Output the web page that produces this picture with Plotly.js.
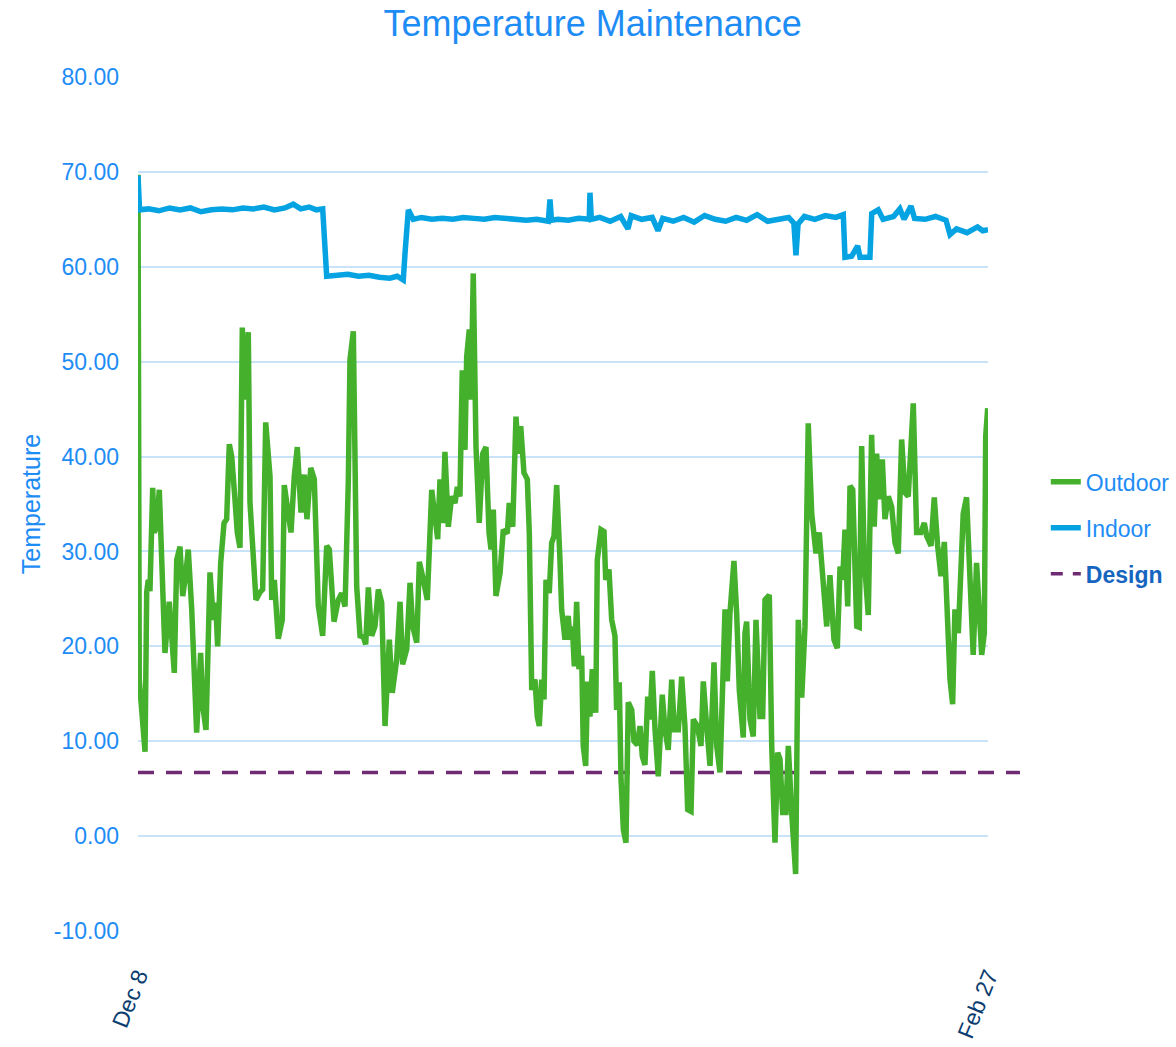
<!DOCTYPE html>
<html>
<head>
<meta charset="utf-8">
<script src="https://cdn.plot.ly/plotly-3.0.1.min.js"></script>
<style>html,body{margin:0;padding:0;background:#fff;}#chart{width:1176px;height:1047px;}</style>
</head>
<body>
<div id="chart"></div>
<script>
// Days since Dec 8 (0 = Dec 8, 81 = Feb 27)
const xTickVals = [0, 81];
const xTickText = ['Dec 8', 'Feb 27'];
const yTickVals = [-10, 0, 10, 20, 30, 40, 50, 60, 70, 80];
const yTickText = ['-10.00', '0.00', '10.00', '20.00', '30.00', '40.00', '50.00', '60.00', '70.00', '80.00'];

const outdoorDay = [0,0.12,0.67,0.83,0.98,1.14,1.40,1.55,1.78,2.03,2.57,2.98,3.46,3.69,4.00,4.26,4.57,4.79,5.12,5.59,5.97,6.17,6.48,6.86,7.18,7.40,7.59,7.88,8.20,8.45,8.70,8.93,9.24,9.46,9.72,9.94,10.20,10.51,10.67,10.99,11.24,11.63,11.88,12.17,12.58,12.74,12.99,13.37,13.75,13.94,14.27,14.58,14.89,15.18,15.53,15.85,16.10,16.46,16.80,17.18,17.60,17.98,18.23,18.68,19.09,19.41,19.73,20.04,20.20,20.52,20.84,21.16,21.47,21.70,21.95,22.27,22.58,22.90,23.22,23.54,23.95,24.23,24.65,24.97,25.22,25.61,25.92,26.18,26.56,26.81,27.19,27.57,27.99,28.30,28.56,28.78,29.04,29.25,29.57,29.89,30.21,30.43,30.68,30.90,31.16,31.32,31.57,31.73,31.95,32.21,32.52,32.85,33.16,33.45,33.64,33.86,34.11,34.50,34.81,35.19,35.38,35.71,36.02,36.24,36.47,36.78,37.10,37.29,37.52,37.83,38.05,38.24,38.47,38.69,38.88,39.19,39.42,39.64,39.90,40.21,40.37,40.69,41.00,41.17,41.39,41.58,41.80,42.02,42.28,42.43,42.66,42.85,43.07,43.29,43.62,43.77,44.12,44.41,44.57,44.88,45.14,45.45,45.61,45.86,46.03,46.25,46.50,46.72,47.05,47.26,47.58,47.84,48.06,48.31,48.57,48.79,49.01,49.27,49.58,49.96,50.22,50.53,50.86,51.11,51.49,51.81,52.12,52.38,52.70,52.92,53.30,53.65,53.87,54.19,54.51,54.89,55.15,55.46,55.72,55.94,56.16,56.41,56.79,57.05,57.30,57.68,57.84,58.00,58.32,58.63,58.89,59.27,59.53,59.75,60.16,60.39,60.70,60.96,61.18,61.43,61.75,61.97,62.29,62.67,62.92,63.25,63.56,63.87,64.20,64.61,64.92,65.25,65.63,65.94,66.32,66.64,66.90,67.15,67.37,67.63,67.85,68.11,68.49,68.73,68.96,69.21,69.59,69.91,70.16,70.39,70.61,70.93,71.18,71.50,71.82,72.14,72.45,72.77,73.09,73.40,73.66,73.88,74.20,74.61,74.93,75.16,75.57,75.88,76.20,76.52,76.84,77.06,77.38,77.63,77.85,78.17,78.33,78.64,78.96,79.28,79.59,79.91,80.14,80.40,80.65,80.78,80.97];
const outdoorTemp = [69.7,16.5,8.9,25.7,27.0,25.8,36.7,32.0,32.6,36.5,19.3,24.7,17.2,29.1,30.5,25.3,27.8,30.2,23.9,10.9,19.3,13.7,11.2,27.8,22.8,24.6,20.0,28.8,33.0,33.4,41.3,40.0,35.5,32.0,30.4,53.6,46.0,53.1,35.2,29.1,24.9,25.7,26.0,43.6,37.9,24.9,27.0,20.8,22.8,37.0,34.7,32.0,37.9,41.0,34.1,38.1,33.4,38.8,37.6,24.3,21.1,30.6,30.2,22.6,24.9,25.6,24.2,37.3,50.2,53.2,26.3,21.1,21.0,20.2,26.2,21.1,22.1,26.0,24.6,11.6,20.7,15.1,18.6,24.7,18.1,19.7,26.7,22.1,20.4,28.9,27.0,24.9,36.5,33.0,31.3,37.6,33.0,40.5,32.6,35.8,35.1,36.8,35.8,49.1,40.7,50.5,53.4,46.0,59.3,41.0,33.0,40.3,41.0,32.0,30.2,34.4,25.3,27.7,32.3,31.9,35.1,32.6,44.2,40.3,43.2,38.3,37.6,31.9,15.4,16.5,12.6,11.6,16.5,14.4,27.0,25.6,30.9,31.6,37.0,29.1,23.9,20.7,23.2,20.7,22.1,17.9,24.7,17.6,19.0,9.5,7.4,16.3,12.6,17.6,13.0,29.1,32.3,32.1,27.0,28.1,22.8,21.1,13.3,16.2,6.0,0.7,-0.7,14.1,13.3,10.0,9.6,11.6,8.4,7.5,14.7,12.3,17.4,11.2,6.3,14.9,11.2,9.1,16.5,11.2,11.2,16.8,11.6,2.8,2.6,12.3,11.6,9.5,16.3,11.6,7.4,18.3,9.5,6.7,19.3,23.9,16.3,23.5,29.0,23.5,15.4,10.4,21.4,22.6,12.3,10.5,22.8,12.6,12.6,24.9,25.4,9.5,-0.7,8.8,8.1,2.5,2.5,9.5,2.5,-4.0,22.8,14.6,22.1,43.5,34.0,29.8,32.0,27.0,22.1,27.5,20.7,19.8,28.4,27.0,32.3,24.2,36.9,36.5,22.1,22.0,41.1,29.1,23.3,42.3,32.6,40.3,35.5,39.7,33.4,35.8,34.7,30.9,29.8,41.8,36.2,35.8,40.7,45.6,32.0,32.0,33.0,31.6,30.6,35.7,30.6,27.4,31.0,23.5,16.5,13.9,23.9,21.4,27.0,34.0,35.7,27.0,19.1,28.8,22.8,19.1,21.4,42.1,45.1];

const indoorDay = [0,0.15,1,2,3,4,5,6,7,8,9,10,11,12,13,14,14.8,15.5,16.3,17,17.6,17.98,19,20,21,22,23,24,24.7,25.28,25.45,25.76,26.23,27,28,29,30,31,32,33,34,35,36,37,38,39.1,39.26,39.4,40,41,42,43,43.07,43.2,44,45,46,46.69,47,48,49,49.55,50,51,52,53,54,55,56,57,58,59,60,61,62,62.5,62.7,62.9,63.5,64.5,65.5,66.5,67.21,67.37,68,68.58,68.8,69.75,69.92,70.54,71,72,72.6,73,73.66,74,75,76,77,77.38,78,79,80,80.5,81];
const indoorTemp = [69.6,66.0,66.1,65.9,66.2,66.0,66.2,65.8,66.0,66.1,66.0,66.2,66.1,66.3,66.0,66.2,66.6,66.1,66.3,66.0,66.1,59.0,59.1,59.2,59.0,59.1,58.9,58.8,59.0,58.6,61.5,66.0,65.0,65.2,65.0,65.1,65.0,65.2,65.1,65.0,65.2,65.1,65.0,64.9,65.0,64.8,67.1,64.9,65.0,64.9,65.1,65.0,67.8,65.0,65.2,64.8,65.3,64.0,65.4,65.0,65.2,63.8,65.1,64.8,65.2,64.7,65.4,65.0,64.8,65.2,64.9,65.5,64.8,65.0,65.2,64.6,61.2,64.5,65.3,65.0,65.4,65.2,65.5,61.0,61.1,62.2,61.0,61.0,65.6,66.0,65.0,65.3,66.1,65.0,66.4,65.1,65.0,65.3,64.9,63.4,64.0,63.6,64.2,63.8,63.9];

const designTemp = [6.7];

const traces = [
  {x: outdoorDay, y: outdoorTemp, name: 'Outdoor', type: 'scatter', mode: 'lines',
   line: {color: '#44B02C', width: 5.5}, legendgroup: 'a'},
  {x: indoorDay, y: indoorTemp, name: 'Indoor', type: 'scatter', mode: 'lines',
   line: {color: '#05A3E2', width: 5.5}, legendgroup: 'b'},
  {x: [null], y: [null], name: '<span style="color:#1565C0"><b>Design</b></span>', type: 'scatter', mode: 'lines',
   line: {color: '#6E2A72', width: 3.5, dash: '12px,10px'}, legendgroup: 'c'}
];

const layout = {
  width: 1176, height: 1047,
  paper_bgcolor: '#ffffff', plot_bgcolor: '#ffffff',
  font: {family: 'Liberation Sans, Arial, sans-serif', color: '#1E8CF5'},
  margin: {l: 138, r: 188, t: 77, b: 116, autoexpand: false},
  title: {text: 'Temperature Maintenance', font: {size: 36, color: '#1E8CF5'},
          x: 0.504, xref: 'container', y: 0.978, yref: 'container', xanchor: 'center', yanchor: 'middle'},
  xaxis: {range: [0, 81], tickvals: xTickVals, ticktext: xTickText, tickangle: -68,
          showgrid: false, zeroline: false, showline: false, ticks: '',
          ticklabelstandoff: 26,
          tickfont: {size: 23, color: '#0B3D6E'}},
  yaxis: {range: [-10, 80], tickvals: yTickVals, ticktext: yTickText, showgrid: true,
          gridcolor: '#C8E3F8', gridwidth: 2, zeroline: false, showline: false, ticks: '',
          ticklabelstandoff: 18,
          tickfont: {size: 23, color: '#1E8CF5'},
          title: {text: 'Temperature', font: {size: 25, color: '#1E8CF5'}, standoff: 6}},
  shapes: [
    {type: 'line', xref: 'paper', yref: 'y', x0: 0, x1: 1.0376, y0: designTemp[0], y1: designTemp[0],
     line: {color: '#6E2A72', width: 3.5, dash: '16px,12px'}, layer: 'below'}
  ],
  legend: {x: 1.068, xanchor: 'left', y: 0.472, yanchor: 'middle', font: {size: 23, color: '#1E8CF5'},
           tracegroupgap: 13, traceorder: 'grouped', bgcolor: 'rgba(0,0,0,0)'},
  showlegend: true
};

Plotly.newPlot('chart', traces, layout, {displayModeBar: false, staticPlot: true});
</script>
</body>
</html>
